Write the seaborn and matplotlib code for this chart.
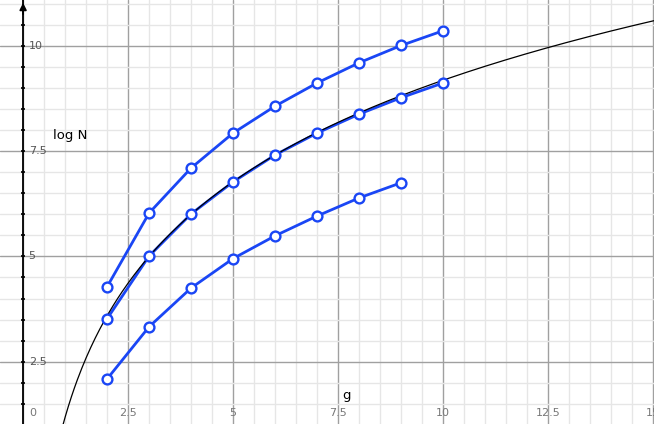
import numpy as np
import pandas as pd
import matplotlib
matplotlib.use("Agg")
import matplotlib.pyplot as plt
import seaborn as sns

# data
g_values = [2, 3, 4, 5, 6, 7, 8, 9, 10]
upper_logn = [4.28, 6.03, 7.10, 7.93, 8.57, 9.12, 9.60, 10.01, 10.36]
middle_logn = [3.52, 5.01, 6.01, 6.77, 7.41, 7.93, 8.38, 8.77, 9.12]
lower_logn = [2.09, 3.33, 4.25, 4.95, 5.49, 5.96, 6.39, 6.75]

# fitted curve y = a*ln(x) + b
curve_a = 3.476
curve_b = 1.181

y_tick_labels = ["2.5", "5", "7.5", "10"]
x_tick_labels = ["0", "2.5", "5", "7.5", "10", "12.5", "15"]

blue = "#1a46f5"

sns.set_style("white")
plt.rcParams["font.family"] = ["DejaVu Sans"]

fig = plt.figure(figsize=(6.54, 4.24), dpi=100)
ax = fig.add_axes([0, 0, 1, 1])

xmin, xmax = -0.55, 15.02
ymin, ymax = 1.02, 11.09
ax.set_xlim(xmin, xmax)
ax.set_ylim(ymin, ymax)

# grid: minor every 0.5, major every 2.5
for v in np.arange(0, 15.5, 0.5):
    major = abs(v / 2.5 - round(v / 2.5)) < 1e-9
    ax.axvline(v, color="#a0a0a0" if major else "#e6e6e6", lw=1, zorder=0)
for v in np.arange(1.5, 11.5, 0.5):
    major = abs(v / 2.5 - round(v / 2.5)) < 1e-9
    ax.axhline(v, color="#a0a0a0" if major else "#e6e6e6", lw=1, zorder=0)

for s in ax.spines.values():
    s.set_visible(False)
ax.set_xticks([])
ax.set_yticks([])

# y axis with arrow and small ticks
ax.axvline(0, color="black", lw=1.3, zorder=1)
ax.annotate("", xy=(0, ymax), xytext=(0, ymax - 0.4),
            arrowprops=dict(arrowstyle="-|>", color="black", lw=1.3,
                            mutation_scale=10), annotation_clip=False)
tick_y = np.arange(1.5, 11.0, 0.5)
ax.scatter(np.zeros(len(tick_y)), tick_y, marker="_", s=9, color="black",
           linewidths=1.2, zorder=1)

for lab in y_tick_labels:
    ax.annotate(lab, (0, float(lab)), xytext=(4, 0), textcoords="offset points",
                ha="left", va="center", fontsize=8, color="#555555")
for lab in x_tick_labels:
    xv = float(lab)
    dx = 7 if xv == 0 else 0
    ax.annotate(lab, (xv, 1.28), xytext=(dx, 0), textcoords="offset points",
                ha="center", va="center", fontsize=8, color="#777777")

# curve
xs = np.linspace(0.9, 15.1, 400)
curve_df = pd.DataFrame({"g": xs, "y": curve_a * np.log(xs) + curve_b})
sns.lineplot(data=curve_df, x="g", y="y", color="black", lw=0.9,
             ax=ax, zorder=3, sort=False)

# series
for vals in (upper_logn, middle_logn, lower_logn):
    df = pd.DataFrame({"g": g_values[:len(vals)], "logN": vals})
    sns.lineplot(data=df, x="g", y="logN", color=blue, lw=2, ax=ax, zorder=2)
    sns.scatterplot(data=df, x="g", y="logN", marker="o", s=50,
                    facecolor="white", edgecolor=blue, linewidth=1.7,
                    ax=ax, zorder=4)

ax.set_xlabel("")
ax.set_ylabel("")
ax.text(0.72, 7.88, "log N", fontsize=9.5, ha="left", va="center", color="black")
ax.text(7.71, 1.69, "g", fontsize=9.5, ha="center", va="center", color="black")

fig.savefig("out.png", dpi=100)
